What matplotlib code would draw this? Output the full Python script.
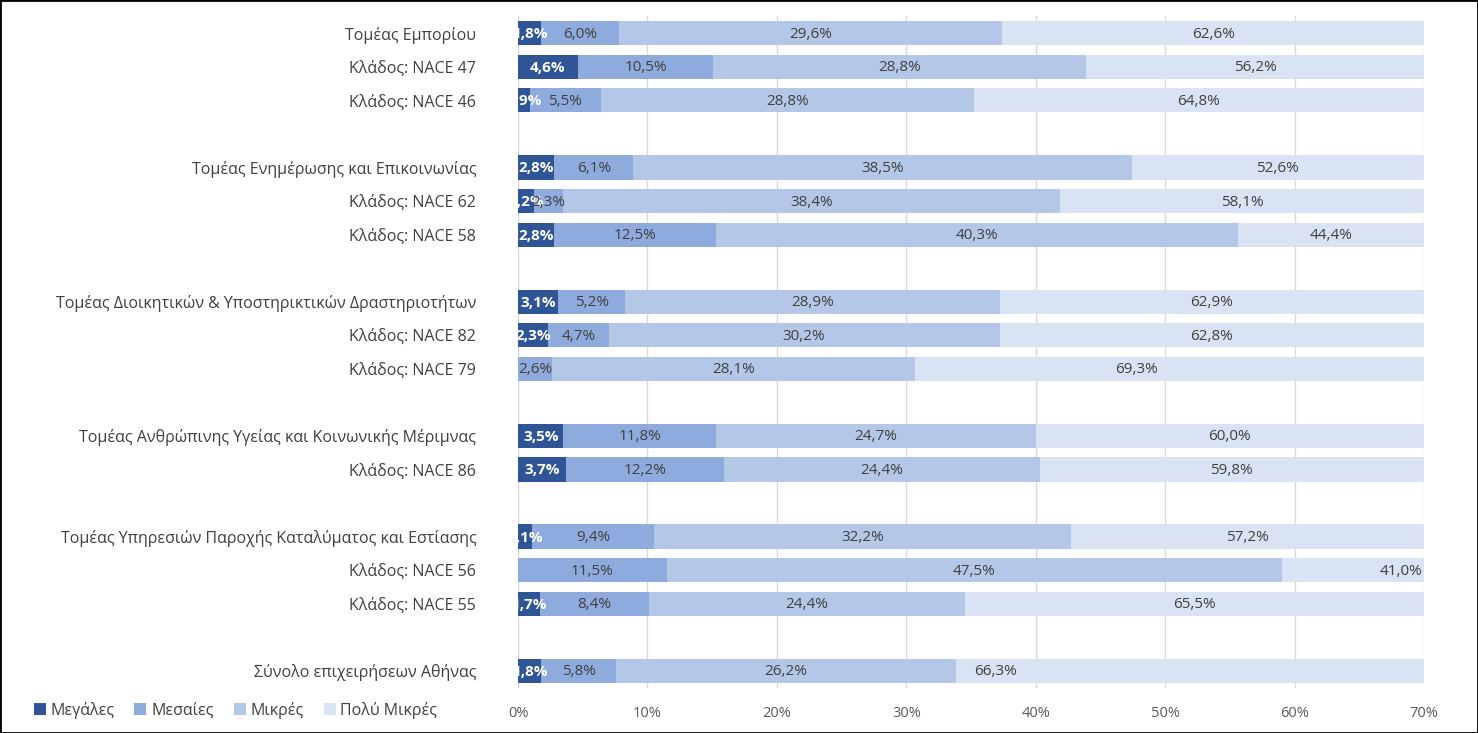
import matplotlib.pyplot as plt
from matplotlib.patches import Rectangle

plt.rcParams['font.family'] = ['Open Sans', 'DejaVu Sans']

# ==============================
# DATA
# ==============================
categories = [
    "Τομέας Εμπορίου", "Κλάδος: NACE 47", "Κλάδος: NACE 46", "",
    "Τομέας Ενημέρωσης και Επικοινωνίας", "Κλάδος: NACE 62", "Κλάδος: NACE 58", "",
    "Τομέας Διοικητικών & Υποστηρικτικών Δραστηριοτήτων", "Κλάδος: NACE 82", "Κλάδος: NACE 79", "",
    "Τομέας Ανθρώπινης Υγείας και Κοινωνικής Μέριμνας", "Κλάδος: NACE 86", "",
    "Τομέας Υπηρεσιών Παροχής Καταλύματος και Εστίασης", "Κλάδος: NACE 56", "Κλάδος: NACE 55", "",
    "Σύνολο επιχειρήσεων Αθήνας",
]
megales = [1.8, 4.6, 0.9, None, 2.8, 1.2, 2.8, None, 3.1, 2.3, 0.0, None,
           3.5, 3.7, None, 1.1, 0.0, 1.7, None, 1.8]
mesaies = [6.0, 10.5, 5.5, None, 6.1, 2.3, 12.5, None, 5.2, 4.7, 2.6, None,
           11.8, 12.2, None, 9.4, 11.5, 8.4, None, 5.8]
mikres = [29.6, 28.8, 28.8, None, 38.5, 38.4, 40.3, None, 28.9, 30.2, 28.1, None,
          24.7, 24.4, None, 32.2, 47.5, 24.4, None, 26.2]
poly_mikres = [62.6, 56.2, 64.8, None, 52.6, 58.1, 44.4, None, 62.9, 62.8, 69.3, None,
               60.0, 59.8, None, 57.2, 41.0, 65.5, None, 66.3]

series = [("Μεγάλες", megales), ("Μεσαίες", mesaies),
          ("Μικρές", mikres), ("Πολύ Μικρές", poly_mikres)]
colors = ["#2F5597", "#8FAADC", "#B4C7E7", "#DAE3F3"]
label_colors = ["white", "#404040", "#404040", "#404040"]

X_MAX = 70
# labels in the last segment that were moved by hand in the original (in % units)
last_label_shift = {10: -2.6, 16: 3.7, 19: -15.0}

# ==============================
# FIGURE
# ==============================
fig = plt.figure(figsize=(14.78, 7.33), dpi=100)
ax = fig.add_axes([0.3505, 0.062, 0.613, 0.9155])

rows = list(range(len(categories)))
left = [0.0] * len(categories)
for si, (name, vals) in enumerate(series):
    ys = [r for r in rows if vals[r] is not None]
    w = [vals[r] for r in ys]
    l = [left[r] for r in ys]
    ax.barh(ys, w, left=l, height=0.72, color=colors[si], label=name, zorder=2)
    for r, v, lo in zip(ys, w, l):
        if v > 0:
            hi = min(lo + v, X_MAX)
            xc = (lo + hi) / 2
            if si == 3:
                xc += last_label_shift.get(r, 0)
            txt = f"{v:.1f}%".replace(".", ",")
            ax.text(xc, r + 0.03, txt, ha="center", va="center", fontsize=11,
                    color=label_colors[si],
                    fontweight="bold" if si == 0 else "normal", zorder=3)
    for r in ys:
        left[r] += vals[r]

ax.set_xlim(0, X_MAX)
ax.set_ylim(len(categories) - 0.5, -0.5)
ax.set_yticks(rows)
ax.set_yticklabels(categories, fontsize=11.5, color="#404040")
ax.set_xticks(range(0, X_MAX + 1, 10))
ax.set_xticklabels([f"{t}%" for t in range(0, X_MAX + 1, 10)], fontsize=10.5,
                   color="#595959")
ax.tick_params(axis="both", length=0)
ax.tick_params(axis="y", pad=30)
ax.tick_params(axis="x", pad=13)
for s in ax.spines.values():
    s.set_visible(False)
ax.grid(axis="x", color="#D9D9D9", linewidth=1, zorder=0)
ax.set_axisbelow(True)

fig.legend(loc="lower left", bbox_to_anchor=(0.013, 0.0), ncol=4, frameon=False,
           fontsize=11.5, handlelength=0.75, handleheight=0.75, handletextpad=0.3,
           columnspacing=1.25, labelcolor="#404040")

fig.patches.append(Rectangle((0, 0), 1, 1, transform=fig.transFigure, fill=False,
                             edgecolor="black", linewidth=2))

fig.savefig("out.png", dpi=100)
